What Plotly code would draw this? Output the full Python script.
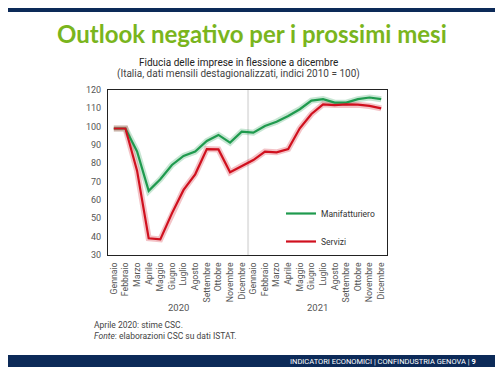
import plotly.graph_objects as go

months = ["Gennaio", "Febbraio", "Marzo", "Aprile", "Maggio", "Giugno", "Luglio",
          "Agosto", "Settembre", "Ottobre", "Novembre", "Dicembre"]
years = ["2020", "2021"]
categories = [f"{m} {y}" for y in years for m in months]
tick_labels = months + months

manifatturiero = [99, 99, 86.5, 65, 71.3, 79.1, 84, 86.4, 92.2, 95.5, 91.3, 97.3,
                  96.7, 100.4, 102.7, 105.8, 109.5, 114.2, 115, 113.1, 113.1, 115, 115.9, 115]
servizi = [99, 99, 76, 39.1, 38.5, 52.7, 65.5, 74, 87.8, 87.6, 75.1, 78.6,
           81.8, 86.4, 86, 87.8, 99.1, 106.9, 112.2, 111.8, 112.2, 112, 111.3, 110]

GREEN = "#1f9a4e"
RED = "#d0101e"
NAVY = "#0c2a58"
TITLE_GREEN = "#7ab51d"
GRAY = "#555555"

# page is offset by the body's 8px margin; coordinates below are page pixels
OFF = 8
PAGE_W, PAGE_H = 503, 376
L, R, T, B = 108, 387, 90, 255
W, H = PAGE_W - OFF, PAGE_H - OFF
def px(x):
    return (x - L) / (R - L)
def py(y):
    return (B - y) / (B - T)

fig = go.Figure()
fig.add_trace(go.Scatter(x=categories, y=manifatturiero, mode="lines",
                         line=dict(color="rgba(31,154,78,0.25)", width=6),
                         showlegend=False, hoverinfo="skip"))
fig.add_trace(go.Scatter(x=categories, y=servizi, mode="lines",
                         line=dict(color="rgba(208,16,30,0.25)", width=6),
                         showlegend=False, hoverinfo="skip"))
fig.add_trace(go.Scatter(x=categories, y=manifatturiero, mode="lines", name="Manifatturiero",
                         line=dict(color=GREEN, width=2.2), legendgroup="a"))
fig.add_trace(go.Scatter(x=categories, y=servizi, mode="lines", name="Servizi",
                         line=dict(color=RED, width=2.2), legendgroup="b"))

shapes = [
    dict(type="rect", xref="paper", yref="paper", x0=px(8), x1=px(495), y0=py(12), y1=py(6),
         fillcolor=NAVY, line=dict(width=0), layer="below"),
    dict(type="rect", xref="paper", yref="paper", x0=px(8), x1=px(495), y0=py(367), y1=py(355),
         fillcolor=NAVY, line=dict(width=0), layer="below"),
    dict(type="line", xref="x", yref="paper", x0=11.55, x1=11.55, y0=0, y1=1,
         line=dict(color="#e3e3e3", width=2), layer="below"),
]

ann = [
    dict(text="<b>Outlook negativo per i prossimi mesi</b>", x=px(252), y=py(33),
         font=dict(size=24, color=TITLE_GREEN, family="Lato")),
    dict(text="Fiducia delle imprese in flessione a dicembre", x=px(238), y=py(62),
         font=dict(size=10, color="#222222", family="Roboto")),
    dict(text="(Italia, dati mensili destagionalizzati, indici 2010 = 100)", x=px(238), y=py(74),
         font=dict(size=10, color="#444444", family="Roboto")),
    dict(text="2020", x=px(178), y=py(307), font=dict(size=9.5, color=GRAY, family="Roboto")),
    dict(text="2021", x=px(317), y=py(307), font=dict(size=9.5, color=GRAY, family="Roboto")),
    dict(text="Aprile 2020: stime CSC.", x=px(92), y=py(325), xanchor="left",
         font=dict(size=8.5, color="#444444", family="Roboto")),
    dict(text="<i>Fonte</i>: elaborazioni CSC su dati ISTAT.", x=px(92), y=py(336), xanchor="left",
         font=dict(size=8.5, color="#444444", family="Roboto")),
    dict(text="INDICATORI ECONOMICI | CONFINDUSTRIA GENOVA | <b>9</b>", x=px(478), y=py(361),
         xanchor="right", font=dict(size=7.5, color="white", family="Roboto")),
]
for a in ann:
    a.setdefault("xanchor", "center")
    a.update(xref="paper", yref="paper", yanchor="middle", showarrow=False)

fig.update_layout(
    width=W, height=H,
    margin=dict(l=L - OFF, r=PAGE_W - R, t=T - OFF, b=PAGE_H - B, pad=0, autoexpand=False),
    paper_bgcolor="white", plot_bgcolor="white",
    shapes=shapes, annotations=ann,
    showlegend=True,
    legend=dict(x=px(281), y=py(199), xanchor="left", yanchor="top",
                bgcolor="rgba(0,0,0,0)", itemwidth=30, tracegroupgap=9,
                font=dict(size=8.5, color="#333333", family="Roboto")),
    xaxis=dict(type="category", tickmode="array", tickvals=categories, ticktext=tick_labels,
               tickangle=-90, range=[-0.5, 23.5], showgrid=False, showline=True,
               linecolor="#222222", linewidth=1, mirror=True, ticks="outside", ticklen=3,
               tickcolor="rgba(0,0,0,0)", automargin=False,
               tickfont=dict(size=8.7, color=GRAY, family="Roboto")),
    yaxis=dict(range=[30, 120], dtick=10, showgrid=False, showline=True,
               linecolor="#222222", linewidth=1, mirror=True, ticks="outside", ticklen=4,
               tickcolor="rgba(0,0,0,0)", automargin=False,
               tickfont=dict(size=9, color=GRAY, family="Roboto")),
)

fig.write_html("out.html")
